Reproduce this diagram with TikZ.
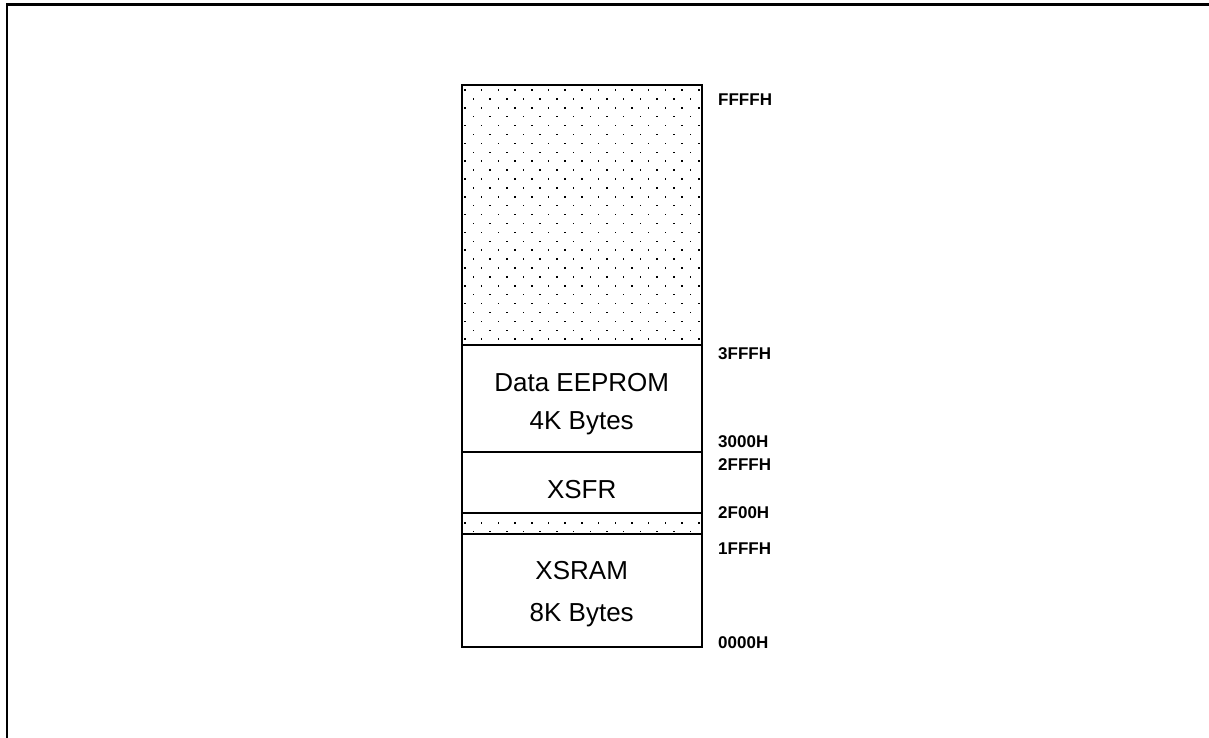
\documentclass[tikz,border=0pt]{standalone}
\usepackage{fontspec}
\setmainfont{Liberation Sans}
\begin{document}
\begin{tikzpicture}[x=1pt,y=1pt,
  memline/.style={line width=2pt},
  regtext/.style={inner sep=0pt,anchor=base,font=\fontsize{26pt}{30pt}\selectfont},
  addr/.style={inner sep=0pt,anchor=west,font=\bfseries\fontsize{17pt}{20pt}\selectfont},
  dotmark/.style={fill=black}]
\useasboundingbox (0,0) rectangle (1209,738);
% outer frame (left and top only)
\draw[line width=2.2pt] (7,0) -- (7,733.5) -- (1209,733.5);
% box coordinates
\coordinate (tl) at (461.7,653);
\coordinate (br) at (701.7,91);
% dotted (unused) regions
\begin{scope}
\clip (461.7,393) rectangle (701.7,653);
\foreach \j in {0,...,28}{
  \foreach \i in {0,...,14}{
    \fill[dotmark] ({465+16.7*\i+8.35*mod(\j,2)-0.75},{648-8.9*\j-0.75}) rectangle +(1.5,1.5);
  }
}
\end{scope}
\begin{scope}
\clip (461.7,204) rectangle (701.7,225);
\foreach \j in {0,1}{
  \foreach \i in {0,...,14}{
    \fill[dotmark] ({465+16.7*\i+8.35*mod(\j,2)-0.75},{215-8.7*\j-0.75}) rectangle +(1.5,1.5);
  }
}
\end{scope}
% box and divisions
\draw[memline] (tl) rectangle (br);
\draw[memline] (461.7,393) -- (701.7,393);
\draw[memline] (461.7,286) -- (701.7,286);
\draw[memline] (461.7,225) -- (701.7,225);
\draw[memline] (461.7,204) -- (701.7,204);
% region texts
\node[regtext] (eep1) at (581.7,346) {Data EEPROM};
\node[regtext] (eep2) at (581.7,308) {4K Bytes};
\node[regtext] (xsfr) at (581.7,239) {XSFR};
\node[regtext] (ram1) at (581.7,158) {XSRAM};
\node[regtext] (ram2) at (581.7,116) {8K Bytes};
% address labels
\node[addr] (aFFFF) at (718,638) {FFFFH};
\node[addr] (a3FFF) at (718,384) {3FFFH};
\node[addr] (a3000) at (718,296) {3000H};
\node[addr] (a2FFF) at (718,273.5) {2FFFH};
\node[addr] (a2F00) at (718,225) {2F00H};
\node[addr] (a1FFF) at (718,189) {1FFFH};
\node[addr] (a0000) at (718,95) {0000H};
\end{tikzpicture}
\end{document}
